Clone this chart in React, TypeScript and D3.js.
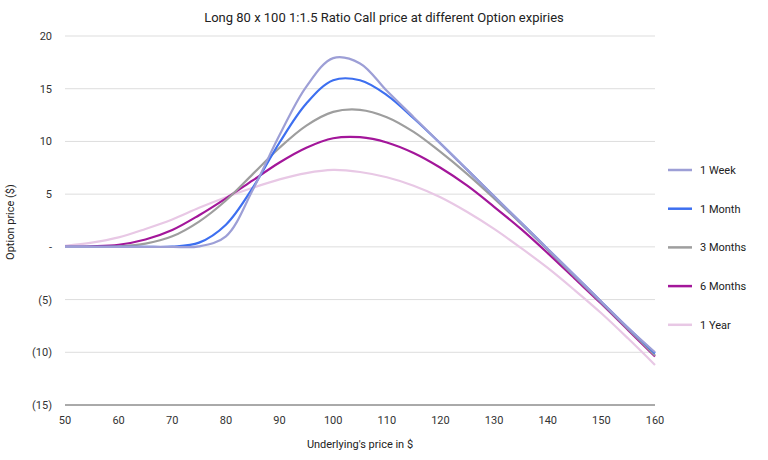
import * as d3 from "d3";

const xs = [50, 55, 60, 65, 70, 75, 80, 85, 90, 95, 100, 105, 110, 115, 120, 125, 130, 135, 140, 145, 150, 155, 160];
const seriesNames = ["1 Week", "1 Month", "3 Months", "6 Months", "1 Year"];
const colors = ["#9d9fd6", "#3d6ff0", "#9e9e9e", "#a3169a", "#e8c8e5"];
const week = [0, 0, 0, 0, 0, 0.05, 1.0, 5.4, 10.6, 15.2, 17.9, 17.4, 14.8, 12.3, 9.8, 7.3, 4.8, 2.3, -0.2, -2.7, -5.2, -7.7, -10.0];
const month = [0, 0, 0, 0, 0.02, 0.4, 2.1, 5.6, 9.9, 13.6, 15.8, 15.8, 14.4, 12.2, 9.8, 7.3, 4.8, 2.3, -0.2, -2.7, -5.2, -7.7, -10.1];
const months3 = [0, 0, 0.05, 0.3, 1.0, 2.4, 4.4, 6.9, 9.4, 11.5, 12.8, 13.0, 12.3, 10.9, 9.0, 6.9, 4.6, 2.2, -0.3, -2.8, -5.3, -7.8, -10.3];
const months6 = [0, 0.05, 0.2, 0.7, 1.6, 3.0, 4.6, 6.3, 8.0, 9.4, 10.3, 10.4, 9.9, 8.9, 7.5, 5.8, 3.8, 1.7, -0.6, -3.0, -5.4, -7.9, -10.4];
const year1 = [0.1, 0.4, 0.9, 1.7, 2.6, 3.7, 4.7, 5.6, 6.4, 7.0, 7.3, 7.1, 6.6, 5.8, 4.7, 3.3, 1.7, -0.1, -2.0, -4.1, -6.3, -8.7, -11.2];
const yTicks = [20, 15, 10, 5, 0, -5, -10, -15];
const xTicks = [50, 60, 70, 80, 90, 100, 110, 120, 130, 140, 150, 160];

const fmt = (v: number) => (v === 0 ? "-" : v < 0 ? `(${-v})` : `${v}`);

export default function App() {
  const all = [week, month, months3, months6, year1];
  const x = d3.scaleLinear().domain([50, 160]).range([65, 655]);
  const y = d3.scaleLinear().domain([-15, 20]).range([405, 36]);
  const line = d3
    .line<number>()
    .x((_, i) => x(xs[i]))
    .y((d) => y(d))
    .curve(d3.curveCatmullRom.alpha(0.5));
  return (
    <svg width={768} height={460} style={{ position: "absolute", left: 0, top: 0, fontFamily: "Roboto" }}>
      <rect width={768} height={460} fill="#fff" />
      <text x={384} y={22} textAnchor="middle" fontSize={13} fill="#222">
        Long 80 x 100 1:1.5 Ratio Call price at different Option expiries
      </text>
      {yTicks.map((t) => (
        <g key={t}>
          <line x1={65} x2={655} y1={y(t)} y2={y(t)} stroke={t === -15 ? "#555" : "#ddd"} />
          <text x={52} y={y(t) + 4} textAnchor="end" fontSize={11} fill="#333">
            {fmt(t)}
          </text>
        </g>
      ))}
      {xTicks.map((t) => (
        <text key={t} x={x(t)} y={424} textAnchor="middle" fontSize={11} fill="#333">
          {t}
        </text>
      ))}
      <text x={360} y={448} textAnchor="middle" fontSize={11} fill="#222">
        Underlying's price in $
      </text>
      <text transform="translate(14,222) rotate(-90)" textAnchor="middle" fontSize={11} fill="#222">
        Option price ($)
      </text>
      {all.map((s, i) => (
        <path key={i} d={line(s) ?? ""} fill="none" stroke={colors[i]} strokeWidth={2.2} />
      )).reverse()}
      {seriesNames.map((n, i) => (
        <g key={n} transform={`translate(668,${170 + i * 38.7})`}>
          <line x1={0} x2={24} stroke={colors[i]} strokeWidth={2.5} />
          <text x={32} y={4} fontSize={11} fill="#222">
            {n}
          </text>
        </g>
      ))}
    </svg>
  );
}
